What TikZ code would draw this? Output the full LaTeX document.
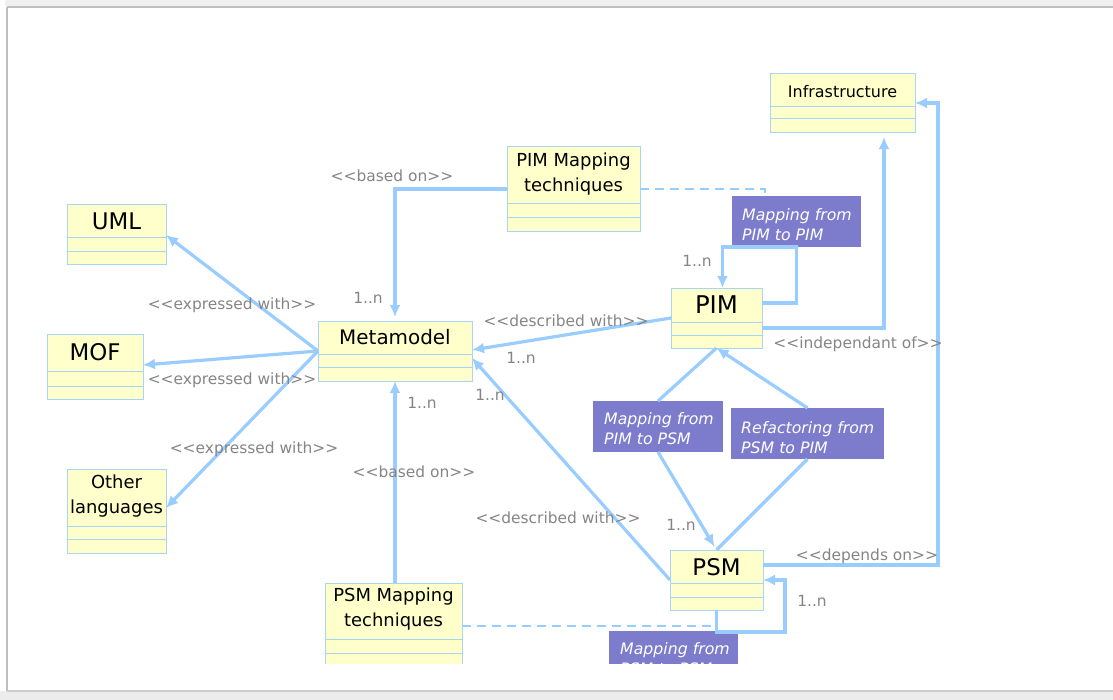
\documentclass[tikz,border=0pt]{standalone}
\usepackage{fontspec}
\setmainfont{DejaVu Sans}
\usetikzlibrary{arrows.meta,calc}
\definecolor{connc}{HTML}{99CCFF}
\definecolor{clsfill}{HTML}{FFFFCC}
\definecolor{clsdraw}{HTML}{A8D4F5}
\definecolor{purp}{HTML}{7D7CCC}
\definecolor{lbl}{HTML}{858585}
\tikzset{
 cls/.style={draw=clsdraw, fill=clsfill, line width=1bp, inner sep=0pt, outer sep=0pt, anchor=north west},
 clsline/.style={draw=clsdraw, line width=1bp},
 assoc/.style={fill=purp, draw=none, inner sep=0pt, outer sep=0pt, anchor=north west},
 assoctext/.style={font=\fontsize{15.8}{20}\selectfont\itshape, text=white, align=left, anchor=north west, inner sep=0pt},
 link/.style={draw=connc, line width=3.2bp},
 tip/.style={-{Latex[length=12bp,width=11bp]}},
 dashlink/.style={draw=connc, line width=2.4bp, dash pattern=on 9bp off 6bp},
 lab/.style={text=lbl, font=\fontsize{15.5}{18}\selectfont, inner sep=0pt},
 tbig/.style={font=\fontsize{23}{27}\selectfont, inner sep=0pt},
 tmid/.style={font=\fontsize{20}{24}\selectfont, inner sep=0pt},
 tsm/.style={font=\fontsize{18}{25}\selectfont, inner sep=0pt, align=center},
 tinf/.style={font=\fontsize{16}{19}\selectfont, inner sep=0pt},
}
\begin{document}
\begin{tikzpicture}[x=1bp,y=-1bp]
\useasboundingbox (0,0) rectangle (1113,700);
\fill[white] (0,0) rectangle (1113,700);
\fill[gray!12] (5,0) rectangle (1113,6);
\draw[gray!50, line width=2bp] (7,7) -- (1113,7);
\draw[gray!50, line width=2.5bp] (7,7) -- (7,691);
\fill[gray!15] (0,691) rectangle (1113,700);
\draw[gray!40, line width=1.5bp] (7,691) -- (1113,691);
\begin{scope}
\clip (9,9) rectangle (1113,663);
% classes
\node[cls, minimum width=99bp, minimum height=60bp] (uml) at (67,204) {};
\draw[clsline] ([yshift=-33bp]uml.north west) -- ([yshift=-33bp]uml.north east);
\draw[clsline] ([yshift=-47bp]uml.north west) -- ([yshift=-47bp]uml.north east);
\node[tbig] (umlt) at ([yshift=-17bp]uml.north) {UML};

\node[cls, minimum width=96bp, minimum height=65bp] (mof) at (47,334) {};
\draw[clsline] ([yshift=-37bp]mof.north west) -- ([yshift=-37bp]mof.north east);
\draw[clsline] ([yshift=-52bp]mof.north west) -- ([yshift=-52bp]mof.north east);
\node[tbig] (moft) at ([yshift=-18bp]mof.north) {MOF};

\node[cls, minimum width=99bp, minimum height=84bp] (other) at (67,469) {};
\draw[clsline] ([yshift=-57bp]other.north west) -- ([yshift=-57bp]other.north east);
\draw[clsline] ([yshift=-70bp]other.north west) -- ([yshift=-70bp]other.north east);
\node[tsm] (othert) at ([yshift=-27bp]other.north) {Other\\languages};

\node[cls, minimum width=154bp, minimum height=60bp] (meta) at (318,321) {};
\draw[clsline] ([yshift=-33bp]meta.north west) -- ([yshift=-33bp]meta.north east);
\draw[clsline] ([yshift=-46bp]meta.north west) -- ([yshift=-46bp]meta.north east);
\node[tmid] (metat) at ([yshift=-16bp]meta.north) {Metamodel};

\node[cls, minimum width=133bp, minimum height=84bp] (pimmt) at (507,147) {};
\draw[clsline] ([yshift=-56bp]pimmt.north west) -- ([yshift=-56bp]pimmt.north east);
\draw[clsline] ([yshift=-70bp]pimmt.north west) -- ([yshift=-70bp]pimmt.north east);
\node[tsm] (pimmtt) at ([yshift=-27bp]pimmt.north) {PIM Mapping\\techniques};

\node[cls, minimum width=91bp, minimum height=60bp] (pim) at (671,288) {};
\draw[clsline] ([yshift=-34bp]pim.north west) -- ([yshift=-34bp]pim.north east);
\draw[clsline] ([yshift=-47bp]pim.north west) -- ([yshift=-47bp]pim.north east);
\node[tbig, font=\fontsize{24.5}{28}\selectfont] (pimt) at ([yshift=-17bp]pim.north) {PIM};

\node[cls, minimum width=145bp, minimum height=58bp] (infra) at (770,74) {};
\draw[clsline] ([yshift=-33bp]infra.north west) -- ([yshift=-33bp]infra.north east);
\draw[clsline] ([yshift=-45bp]infra.north west) -- ([yshift=-45bp]infra.north east);
\node[tinf] (infrat) at ([yshift=-18bp]infra.north) {Infrastructure};

\node[cls, minimum width=93bp, minimum height=60bp] (psm) at (670,550) {};
\draw[clsline] ([yshift=-33bp]psm.north west) -- ([yshift=-33bp]psm.north east);
\draw[clsline] ([yshift=-47bp]psm.north west) -- ([yshift=-47bp]psm.north east);
\node[tbig] (psmt) at ([yshift=-17bp]psm.north) {PSM};

\node[cls, minimum width=137bp, minimum height=90bp] (psmmt) at (325,583) {};
\draw[clsline] ([yshift=-56bp]psmmt.north west) -- ([yshift=-56bp]psmmt.north east);
\draw[clsline] ([yshift=-70bp]psmmt.north west) -- ([yshift=-70bp]psmmt.north east);
\node[tsm] (psmmtt) at ([yshift=-26bp]psmmt.north) {PSM Mapping\\techniques};

% association classes
\node[assoc, minimum width=129bp, minimum height=51bp] (pp) at (732,196) {};
\node[assoctext] (ppt) at ([xshift=10bp,yshift=-12bp]pp.north west) {Mapping from\\PIM to PIM};
\node[assoc, minimum width=130bp, minimum height=51bp] (ps) at (593,401) {};
\node[assoctext] (pst) at ([xshift=11bp,yshift=-11bp]ps.north west) {Mapping from\\PIM to PSM};
\node[assoc, minimum width=153bp, minimum height=51bp] (rf) at (731,408) {};
\node[assoctext] (rft) at ([xshift=10bp,yshift=-13bp]rf.north west) {Refactoring from\\PSM to PIM};
\node[assoc, minimum width=129bp, minimum height=51bp] (ss) at (609,631) {};
\node[assoctext] (sst) at ([xshift=11bp,yshift=-11bp]ss.north west) {Mapping from\\PSM to PSM};

% connectors
\draw[link,tip] (meta.west) -- ([yshift=-31bp]uml.north east);
\draw[link,tip] (meta.west) -- ([yshift=-31bp]mof.north east);
\draw[link,tip] (meta.west) -- ([yshift=-39bp]other.north east);
\draw[link,tip,shorten >=4bp] ([yshift=-42bp]pimmt.north west) -| (meta.north);
\draw[dashlink] ([yshift=-42bp]pimmt.north east) -| ([xshift=33bp]pp.north west);
\draw[link,tip] ([yshift=-15bp]pim.north east) -| (pp.south) -| ([xshift=6bp]pim.north);
\draw[link,tip] ([yshift=-30bp]pim.north west) -- ([yshift=-29bp]meta.north east);
\draw[link,tip,shorten >=5bp] ([yshift=-40bp]pim.north east) -| ([xshift=-31bp]infra.south east);
\draw[link,tip] ([yshift=-15bp]psm.north east) -- ++(175,0) |- ([yshift=-29bp]infra.north east);
\draw[link,tip] ([yshift=-30bp]psm.north west) -- ([yshift=-37bp]meta.north east);
\draw[link,tip] (meta.south |- psmmt.north) -- (meta.south);
\draw[link,tip] (psm.south) -- ++(0,22) -| ([xshift=22bp,yshift=-30bp]psm.north east) -- ([yshift=-30bp]psm.north east);
\coordinate (d2) at ([yshift=-43bp]psmmt.north east);
\draw[dashlink] (d2) -- (d2 -| psm.south);
\draw[link] (pim.south) -- (ps.north);
\draw[link,tip,shorten >=4bp] (ps.south) -- (psm.north);
\draw[link] (psm.north) -- (rf.south);
\draw[link,tip] (rf.north) -- (pim.south);

% labels
\node[lab] (e1) at (232,305) {<{}<expressed with>{}>};
\node[lab] (e2) at (232,380) {<{}<expressed with>{}>};
\node[lab] (e3) at (254,449) {<{}<expressed with>{}>};
\node[lab] (b1) at (392,176) {<{}<based on>{}>};
\node[lab] (b2) at (414,472) {<{}<based on>{}>};
\node[lab] (d1) at (566,321) {<{}<described with>{}>};
\node[lab] (d2l) at (558,518) {<{}<described with>{}>};
\node[lab] (ind) at (858,344) {<{}<independant of>{}>};
\node[lab] (dep) at (867,556) {<{}<depends on>{}>};
\node[lab] (n1) at (368,298) {1..n};
\node[lab] (n2) at (521,358) {1..n};
\node[lab] (n3) at (697,261) {1..n};
\node[lab] (n4) at (490,395) {1..n};
\node[lab] (n5) at (422,403) {1..n};
\node[lab] (n6) at (681,525) {1..n};
\node[lab] (n7) at (812,601) {1..n};
\end{scope}
\end{tikzpicture}
\end{document}
